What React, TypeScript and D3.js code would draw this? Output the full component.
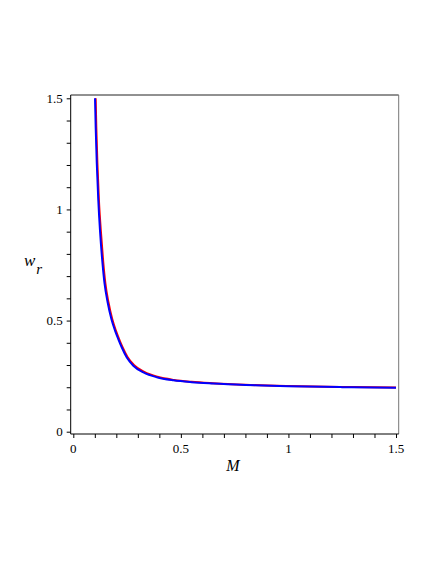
import { useEffect, useRef } from 'react';
import * as d3 from 'd3';

// values (M, w_r)
const blueM = [0.101, 0.104, 0.109, 0.116, 0.124, 0.135, 0.145, 0.160, 0.177, 0.194, 0.209, 0.225, 0.248, 0.279, 0.326, 0.388, 0.465, 0.550, 0.650, 0.800, 1.000, 1.250, 1.500];
const blueW = [1.500, 1.370, 1.210, 1.045, 0.905, 0.765, 0.668, 0.580, 0.507, 0.455, 0.417, 0.380, 0.335, 0.297, 0.267, 0.245, 0.231, 0.2225, 0.2165, 0.210, 0.2045, 0.2005, 0.198];
const redM = [0.104, 0.107, 0.112, 0.119, 0.128, 0.139, 0.149, 0.164, 0.181, 0.198, 0.213, 0.229, 0.252, 0.283, 0.330, 0.392, 0.468, 0.550, 0.650, 0.800, 1.000, 1.250, 1.500];
const redW = [1.500, 1.370, 1.210, 1.045, 0.905, 0.765, 0.668, 0.580, 0.507, 0.455, 0.417, 0.380, 0.336, 0.299, 0.269, 0.247, 0.233, 0.2245, 0.218, 0.211, 0.2055, 0.2015, 0.199];

const xMajor = [0, 0.5, 1, 1.5];
const yMajor = [0, 0.5, 1, 1.5];
const minorTicks = d3.range(0, 16).map((i) => i / 10);

const serif = '"Liberation Serif", "Times New Roman", "DejaVu Serif", serif';

const App = () => {
  const ref = useRef<SVGSVGElement>(null);
  const width = 436;
  const height = 564;

  useEffect(() => {
    const svg = d3.select(ref.current);
    svg.selectAll('*').remove();

    const x = d3.scaleLinear().domain([0, 1.5]).range([73.3, 396]);
    const y = d3.scaleLinear().domain([0, 1.5]).range([431.7, 98.3]);
    const left = 70.7, right = 398.7, top = 95, bottom = 434;

    // frame
    svg.append('line').attr('x1', left).attr('x2', right).attr('y1', top).attr('y2', top)
      .attr('stroke', '#222').attr('stroke-width', 1);
    svg.append('line').attr('x1', right).attr('x2', right).attr('y1', top).attr('y2', bottom)
      .attr('stroke', '#777').attr('stroke-width', 1);

    const clip = svg.append('clipPath').attr('id', 'plotclip');
    clip.append('rect').attr('x', left).attr('y', top).attr('width', right - left).attr('height', bottom - top);

    const line = d3.line<[number, number]>()
      .x((d) => x(d[0]))
      .y((d) => y(d[1]))
      .curve(d3.curveMonotoneX);

    const lines = svg.append('g').attr('clip-path', 'url(#plotclip)');
    lines.append('path')
      .datum(redM.map((m, i) => [m, redW[i]] as [number, number]))
      .attr('fill', 'none').attr('stroke', '#ff0000').attr('stroke-width', 2).attr('d', line);
    lines.append('path')
      .datum(blueM.map((m, i) => [m, blueW[i]] as [number, number]))
      .attr('fill', 'none').attr('stroke', '#0000ff').attr('stroke-width', 2).attr('d', line);

    // x axis
    const xa = svg.append('g').attr('transform', `translate(0,${bottom})`);
    xa.call(
      d3.axisBottom(x).tickValues(minorTicks).tickSize(4).tickFormat(() => '')
    );
    xa.select('.domain').remove();
    xa.append('line').attr('x1', left).attr('x2', right).attr('stroke', '#000').attr('stroke-width', 1);
    xa.selectAll('.tick line').attr('stroke', '#000');
    xa.selectAll('.xlab')
      .data(xMajor)
      .enter()
      .append('text')
      .attr('x', (d) => x(d))
      .attr('y', 19)
      .attr('text-anchor', 'middle')
      .attr('font-family', serif)
      .attr('font-size', 13)
      .attr('fill', '#000')
      .text((d) => d3.format('')(d));

    // y axis
    const ya = svg.append('g').attr('transform', `translate(${left},0)`);
    ya.call(
      d3.axisLeft(y).tickValues(minorTicks).tickSize(4).tickFormat(() => '')
    );
    ya.select('.domain').remove();
    ya.append('line').attr('y1', top).attr('y2', bottom).attr('stroke', '#000').attr('stroke-width', 1);
    ya.selectAll('.tick line').attr('stroke', '#000');
    ya.selectAll('.ylab')
      .data(yMajor)
      .enter()
      .append('text')
      .attr('x', -8)
      .attr('y', (d) => y(d))
      .attr('dy', '0.35em')
      .attr('text-anchor', 'end')
      .attr('font-family', serif)
      .attr('font-size', 13)
      .attr('fill', '#000')
      .text((d) => d3.format('')(d));

    // axis titles
    svg.append('text')
      .attr('x', 233).attr('y', 471)
      .attr('text-anchor', 'middle')
      .attr('font-family', serif)
      .attr('font-style', 'italic')
      .attr('font-size', 16)
      .text('M');
    const wt = svg.append('text')
      .attr('x', 24).attr('y', 266)
      .attr('font-family', serif)
      .attr('font-style', 'italic')
      .attr('font-size', 17);
    wt.append('tspan').text('w');
    wt.append('tspan').attr('dx', 1).attr('dy', 8).attr('font-size', 15).text('r');
  }, []);

  return (
    <svg
      ref={ref}
      width={width}
      height={height}
      style={{ position: 'absolute', left: 0, top: 0, background: '#fff' }}
    />
  );
};

export default App;
